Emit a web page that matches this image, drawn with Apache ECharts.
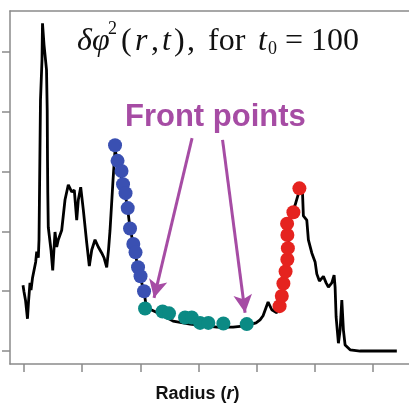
<!DOCTYPE html>
<html>
<head>
<meta charset="utf-8">
<script src="https://cdn.jsdelivr.net/npm/echarts@6/dist/echarts.min.js"></script>
<style>
html, body { margin: 0; padding: 0; background: #fff; }
#chart { width: 409px; height: 404px; }
</style>
</head>
<body>
<div id="chart"></div>
<script>
// δφ²(r,t) profile
const radius = [-0.34, 0, 0.52, 1.2, 1.55, 2.06, 2.41, 2.92, 3.44, 4.02, 4.37, 4.92, 5.16, 5.67, 6.19, 6.36, 6.88, 7.74,
    7.98, 8.08, 8.18, 8.35, 9.28, 9.87, 10.66, 11.24, 11.79, 12.96, 14.1, 15.23, 16.4, 17.29, 18.12, 18.67, 19.49,
    20.39, 21.56, 22.45, 23.28, 24.41, 25.54, 26.71, 27.5, 28.43, 29.05, 29.57, 30.6, 31.29, 31.97, 33.01, 33.69,
    34.72, 35.58, 36.44, 37.47, 38.16, 39.02, 39.88, 41.26, 41.94, 43.32, 46.76, 51.23, 57.07, 62.23, 66.35, 71.85,
    75.98, 79.76, 81.13, 82.17, 83.89, 85.16, 86.88, 87.67, 88.7, 89.39, 90.08, 90.59, 90.76, 90.87, 90.97, 92.14,
    93.17, 94.2, 95.23, 95.75, 96.02, 97.19, 97.74, 98.91, 100.05, 100.63, 101.53, 102.9, 103.83, 104.62, 105.79,
    106.58, 106.92, 107.27, 108.06, 108.64, 109.23, 109.78, 110.36, 112.08, 115.52, 128.14];
const dphi2 = [1.10, 0.99, 0.85, 0.54, 0.82, 1.14, 1.02, 1.22, 1.19, 1.49, 1.66, 1.56, 1.86, 4.20, 4.87, 5.48, 5.12, 4.70,
    4.03, 3.19, 2.64, 2.07, 1.69, 1.35, 1.99, 1.74, 1.86, 2.02, 2.53, 2.78, 2.66, 2.69, 2.19, 2.53, 2.74,
    2.36, 1.81, 1.42, 1.69, 1.86, 1.74, 1.64, 1.56, 1.40, 1.69, 2.02, 2.86, 3.36, 3.23, 3.06, 2.83,
    2.64, 2.39, 2.06, 1.81, 1.66, 1.42, 1.25, 0.99, 0.77, 0.70, 0.62, 0.50, 0.45, 0.42, 0.40, 0.40,
    0.42, 0.47, 0.52, 0.59, 0.82, 0.69, 0.64, 0.75, 0.92, 1.14, 1.32, 1.52, 1.72, 1.94, 2.12, 2.32,
    2.44, 2.61, 2.79, 2.61, 2.26, 2.19, 1.86, 1.64, 1.49, 1.29, 1.17, 1.25, 1.14, 1.07, 1.14,
    1.27, 1.07, 0.57, 0.13, 0.35, 0.85, 0.35, 0.10, 0.02, 0, 0];

// front points
const blueR = [31.29, 32.15, 33.52, 34.04, 34.9, 35.65, 36.44, 37.57, 38.33, 39.19, 40.05, 41.26];
const blueV = [3.44, 3.18, 3.01, 2.79, 2.64, 2.39, 2.05, 1.79, 1.65, 1.40, 1.25, 1.00];
const tealR = [41.6, 47.62, 49.85, 55.35, 57.66, 60.51, 63.36, 68.52, 76.56];
const tealV = [0.71, 0.66, 0.63, 0.56, 0.56, 0.47, 0.47, 0.46, 0.45];
const redR = [87.84, 88.6, 89.15, 89.9, 90.52, 90.69, 90.52, 90.42, 92.59, 94.65];
const redV = [0.75, 0.92, 1.13, 1.33, 1.53, 1.72, 1.94, 2.13, 2.32, 2.72];

// arrows from the label to the front
const arrowFrom = [[57.76, 3.56], [68.24, 3.53]];
const arrowTo = [[44.69, 0.89], [75.98, 0.64]];

const xTicks = [0, 20, 40, 60, 80, 100, 120];
const yTicks = [0, 1, 2, 3, 4, 5];

const zip = (a, b) => a.map((v, i) => [v, b[i]]);
const purple = '#a64ca4';
const axisGrey = '#8a8a8a';

const chart = echarts.init(document.getElementById('chart'));

function dots(name, xs, ys, color) {
    return {
        name: name,
        type: 'scatter',
        data: zip(xs, ys),
        symbolSize: 14,
        itemStyle: { color: color, opacity: 1 },
        z: 5,
        silent: true
    };
}

const axisLine = { show: true, onZero: false, lineStyle: { color: axisGrey, width: 1.5 } };

// serif styles for the formula
const serif = (italic, size, w) => ({
    fontFamily: 'Liberation Serif',
    fontStyle: italic ? 'italic' : 'normal',
    fontSize: size,
    width: w,
    verticalAlign: 'bottom',
    lineHeight: size > 20 ? 38 : 16,
    fill: '#111'
});

const option = {
    animation: false,
    grid: { left: 10, top: 11, width: 410, bottom: 40, outerBoundsMode: 'none', containLabel: false },
    xAxis: [
        {
            type: 'value',
            min: -4.81,
            max: 136.1,
            axisLine: axisLine,
            axisTick: { show: true, length: 8, customValues: xTicks, lineStyle: { color: axisGrey, width: 1.5 } },
            axisLabel: { show: false },
            splitLine: { show: false }
        },
        {
            // top frame line
            type: 'value',
            position: 'top',
            min: -4.81,
            max: 136.1,
            axisLine: axisLine,
            axisTick: { show: false },
            axisLabel: { show: false },
            splitLine: { show: false }
        }
    ],
    yAxis: {
        type: 'value',
        min: -0.217,
        max: 5.686,
        axisLine: axisLine,
        axisTick: { show: true, length: 8, customValues: yTicks, lineStyle: { color: axisGrey, width: 1.5 } },
        axisLabel: { show: false },
        splitLine: { show: false }
    },
    series: [
        {
            name: 'profile',
            type: 'line',
            data: zip(radius, dphi2),
            showSymbol: false,
            lineStyle: { color: '#000', width: 2.8 },
            z: 3,
            silent: true,
            markLine: {
                silent: true,
                symbol: ['none', 'arrow'],
                symbolSize: [14, 18],
                lineStyle: { color: purple, width: 3, type: 'solid' },
                label: { show: false },
                data: arrowFrom.map((p, i) => [{ coord: p }, { coord: arrowTo[i] }])
            }
        },
        dots('blue', blueR, blueV, '#3a50b2'),
        dots('teal', tealR, tealV, '#0b8a84'),
        dots('red', redR, redV, '#e5231f')
    ],
    graphic: [
        {
            type: 'text',
            left: 77,
            top: 20,
            style: {
                text: '{a|δφ}{b|2}{c|(}{d|r}{e|,}{f|t}{g|)}{h|,}{i|for}{j|t}{k|0}{l|= 100}',
                rich: {
                    a: serif(true, 32, 31),
                    b: Object.assign(serif(false, 18, 13), { verticalAlign: 'top', lineHeight: 24 }),
                    c: serif(false, 32, 14),
                    d: serif(true, 32, 16),
                    e: serif(false, 32, 11),
                    f: serif(true, 32, 12),
                    g: serif(false, 32, 13),
                    h: serif(false, 32, 21),
                    i: serif(false, 32, 50),
                    j: serif(true, 32, 10),
                    k: serif(false, 18, 17),
                    l: serif(false, 32, 80)
                }
            }
        },
        {
            type: 'text',
            x: 125,
            y: 117.5,
            style: {
                text: 'Front points',
                fontFamily: 'Liberation Sans',
                fontWeight: 'bold',
                fontSize: 31,
                fill: purple,
                verticalAlign: 'middle'
            }
        },
        {
            type: 'text',
            x: 197.5,
            y: 394,
            style: {
                text: '{b|Radius (}{bi|r}{b|)}',
                align: 'center',
                verticalAlign: 'middle',
                rich: {
                    b: { fontFamily: 'Liberation Sans', fontWeight: 'bold', fontSize: 18, fill: '#111' },
                    bi: { fontFamily: 'Liberation Sans', fontWeight: 'bold', fontStyle: 'italic', fontSize: 18, fill: '#111' }
                }
            }
        }
    ]
};

chart.setOption(option);
</script>
</body>
</html>
